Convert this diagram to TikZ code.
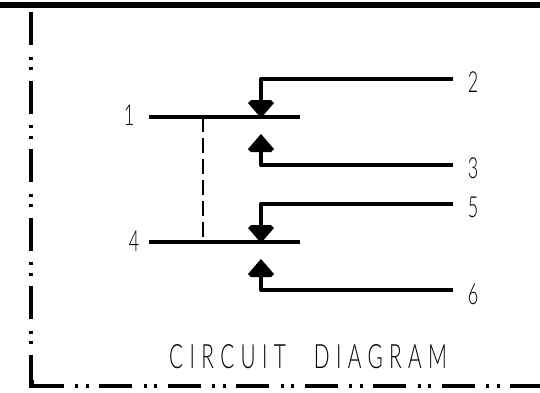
\documentclass[tikz,border=0pt]{standalone}
\usepackage{fontspec}
\setmainfont{Liberation Sans}
\newfontfamily\thinfont[FakeStretch=0.62]{Lato Light}
\newfontfamily\thinspaced[FakeStretch=0.62,LetterSpace=19]{Lato Light}
\tikzset{
  wire/.style={line width=4pt,black},
  frameline/.style={line width=4pt,black,dash pattern=on 33pt off 11.5pt on 3pt off 7.5pt on 3pt off 10.5pt},
  tie/.style={line width=2pt,black,dash pattern=on 15pt off 6pt},
  head/.style={fill=black,draw=none},
  num/.style={inner sep=0pt,font=\thinfont\fontsize{29}{29}\selectfont,text=black},
  caption/.style={inner sep=0pt,font=\thinspaced\fontsize{33.5}{33.5}\selectfont,text=black}
}
\begin{document}
\begin{tikzpicture}[x=1pt,y=-1pt]
\useasboundingbox (0,0) rectangle (540,392);
\fill[white] (0,0) rectangle (540,392);
\fill[black] (0,2) rectangle (540,8);
% frame
\coordinate (ftop) at (30.5,12);
\coordinate (fcorner) at (30.5,386);
\coordinate (fright) at (540,386);
\draw[frameline] (ftop) -- (fcorner);
\draw[frameline] (fcorner) -- (fright);
\fill[black] (28.5,380) rectangle (34,388);
% contacts
\coordinate (a1) at (149,117);
\coordinate (b1) at (300,117);
\coordinate (a2) at (149,242);
\coordinate (b2) at (300,242);
\draw[wire] (a1) -- (b1);
\draw[wire] (a2) -- (b2);
\coordinate (t1) at (202.5,117);
\coordinate (t2) at (202.5,242);
\draw[tie] (t1) -- (t2);
% terminals
\coordinate (e2) at (453,79);
\coordinate (k2) at (261,79);
\coordinate (h2) at (261,104);
\coordinate (e3) at (453,165);
\coordinate (k3) at (261,165);
\coordinate (h3) at (261,148);
\coordinate (e5) at (453,203.5);
\coordinate (k5) at (261,203.5);
\coordinate (h5) at (261,229);
\coordinate (e6) at (453,290);
\coordinate (k6) at (261,290);
\coordinate (h6) at (261,273);
\draw[wire,line join=round] (e2) -- (k2) -- (h2);
\draw[wire,line join=round] (e3) -- (k3) -- (h3);
\draw[wire,line join=round] (e5) -- (k5) -- (h5);
\draw[wire,line join=round] (e6) -- (k6) -- (h6);
% arrow heads
\path[head] (251,100) -- (271,100) -- (274,103) -- (261,118) -- (248,103) -- cycle;
\path[head] (261,134) -- (274,149) -- (271,152) -- (251,152) -- (248,149) -- cycle;
\path[head] (251,225) -- (271,225) -- (274,228) -- (261,243) -- (248,228) -- cycle;
\path[head] (261,259) -- (274,274) -- (271,277) -- (251,277) -- (248,274) -- cycle;
% labels
\node[num] (n1) at (129,115) {1};
\node[num] (n2) at (473,82) {2};
\node[num] (n3) at (473,168) {3};
\node[num] (n4) at (134,241) {4};
\node[num] (n5) at (473,207) {5};
\node[num] (n6) at (473,294) {6};
\node[caption,anchor=west] (title) at (169,357) {CIRCUIT\hspace{16pt} DIAGRAM};
\end{tikzpicture}
\end{document}
